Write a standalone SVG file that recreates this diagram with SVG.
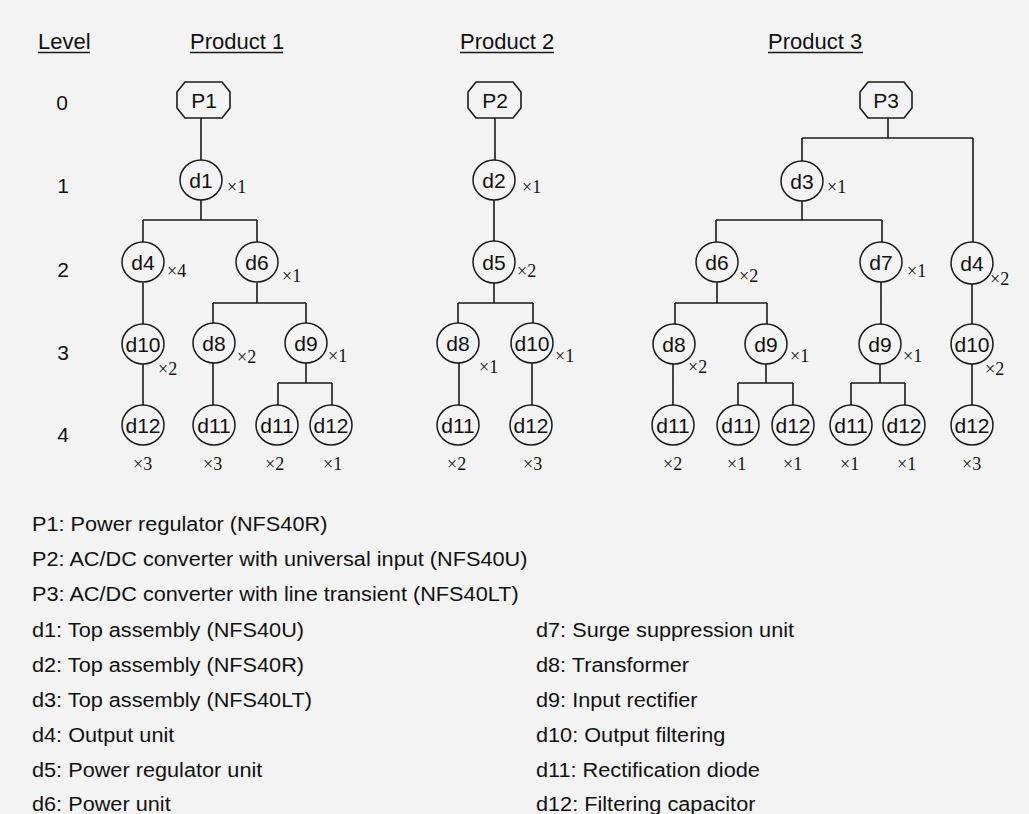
<svg xmlns="http://www.w3.org/2000/svg" width="1029" height="814" viewBox="0 0 1029 814">
<defs>
<style>
.bg{fill:#f3f3f3}
.ln{stroke:#1a1a1a;stroke-width:1.6;fill:none}
.c{fill:none;stroke:#1a1a1a;stroke-width:1.5}
.oct{fill:none;stroke:#1a1a1a;stroke-width:1.6;stroke-linejoin:round}
.lbl{font-family:"Liberation Sans",Arial,sans-serif;font-size:21px;fill:#111;text-anchor:middle}
.mul{font-family:"Liberation Serif","Times New Roman",serif;font-size:18px;fill:#111}
.hdr{font-family:"Liberation Sans",Arial,sans-serif;font-size:22px;fill:#111}
.lvl{font-family:"Liberation Sans",Arial,sans-serif;font-size:21px;fill:#111;text-anchor:middle}
.leg{font-family:"Liberation Sans",Arial,sans-serif;font-size:20px;fill:#111}
</style>
</defs>
<rect class="bg" x="0" y="0" width="1029" height="814"/>

<g id="headers">
<text class="hdr" x="38" y="49">Level</text>
<line class="ln" x1="38" y1="52.5" x2="90" y2="52.5"/>
<text class="hdr" x="190" y="49">Product 1</text>
<line class="ln" x1="190" y1="52.5" x2="283" y2="52.5"/>
<text class="hdr" x="460" y="49">Product 2</text>
<line class="ln" x1="460" y1="52.5" x2="554" y2="52.5"/>
<text class="hdr" x="768" y="49">Product 3</text>
<line class="ln" x1="768" y1="52.5" x2="863" y2="52.5"/>
</g>

<g id="levels">
<text class="lvl" x="62" y="110">0</text>
<text class="lvl" x="63" y="193">1</text>
<text class="lvl" x="63" y="277">2</text>
<text class="lvl" x="63" y="360">3</text>
<text class="lvl" x="63" y="442">4</text>
</g>

<g id="connectors">
<!-- Product 1 -->
<path class="ln" d="M201 118V160M201 200V220M143 220H257M143 220V242M257 220V242"/>
<path class="ln" d="M143 283V324M257 283V303M213 303H306M213 303V323M306 303V323"/>
<path class="ln" d="M143 364V405M213 363V405M306 363V383M278 383H332M278 383V405M332 383V405"/>
<!-- Product 2 -->
<path class="ln" d="M495 118V160M494 200V241M494 283V303M458 303H533M458 303V323M533 303V323"/>
<path class="ln" d="M459 363V405M532 363V405"/>
<!-- Product 3 -->
<path class="ln" d="M888 118V138M802 138H973M802 138V161M973 138V242"/>
<path class="ln" d="M802 201V220M716 220H882M716 220V242M882 220V242"/>
<path class="ln" d="M717 282V303M675 303H767M675 303V324M767 303V324M881 282V324M972 284V324"/>
<path class="ln" d="M673 364V405M766 364V383M738 383H793M738 383V405M793 383V405M880 364V383M851 383H905M851 383V405M905 383V405M972 364V405"/>
</g>

<!-- Product 1 nodes -->
<g id="p1-P1"><path class="oct" d="M185 82H222L230 92V108L222 118H185L177 108V92Z"/><text class="lbl" x="204" y="108">P1</text></g>
<g id="p1-d1"><ellipse class="c" cx="201" cy="180" rx="21" ry="20"/><text class="lbl" x="201" y="188">d1</text><text class="mul" x="227" y="193">×1</text></g>
<g id="p1-d4"><ellipse class="c" cx="143" cy="262" rx="21" ry="20"/><text class="lbl" x="143" y="270">d4</text><text class="mul" x="167" y="277">×4</text></g>
<g id="p1-d6"><ellipse class="c" cx="257" cy="262" rx="21" ry="20"/><text class="lbl" x="257" y="270">d6</text><text class="mul" x="282" y="282">×1</text></g>
<g id="p1-d10"><ellipse class="c" cx="143" cy="344" rx="21" ry="20"/><text class="lbl" x="143" y="352">d10</text><text class="mul" x="158" y="375">×2</text></g>
<g id="p1-d8"><ellipse class="c" cx="214" cy="343" rx="21" ry="20"/><text class="lbl" x="214" y="351">d8</text><text class="mul" x="237" y="363">×2</text></g>
<g id="p1-d9"><ellipse class="c" cx="306" cy="343" rx="21" ry="20"/><text class="lbl" x="306" y="351">d9</text><text class="mul" x="328" y="362">×1</text></g>
<g id="p1-d12a"><ellipse class="c" cx="143" cy="425" rx="21" ry="20"/><text class="lbl" x="143" y="433">d12</text><text class="mul" x="133" y="470">×3</text></g>
<g id="p1-d11a"><ellipse class="c" cx="214" cy="425" rx="21" ry="20"/><text class="lbl" x="214" y="433">d11</text><text class="mul" x="203" y="470">×3</text></g>
<g id="p1-d11b"><ellipse class="c" cx="277" cy="425" rx="21" ry="20"/><text class="lbl" x="277" y="433">d11</text><text class="mul" x="265" y="470">×2</text></g>
<g id="p1-d12b"><ellipse class="c" cx="331" cy="425" rx="21" ry="20"/><text class="lbl" x="331" y="433">d12</text><text class="mul" x="323" y="470">×1</text></g>

<!-- Product 2 nodes -->
<g id="p2-P2"><path class="oct" d="M476 82H513L521 92V108L513 118H476L468 108V92Z"/><text class="lbl" x="495" y="108">P2</text></g>
<g id="p2-d2"><ellipse class="c" cx="494" cy="180" rx="21" ry="20"/><text class="lbl" x="494" y="188">d2</text><text class="mul" x="522" y="193">×1</text></g>
<g id="p2-d5"><ellipse class="c" cx="494" cy="262" rx="21" ry="21"/><text class="lbl" x="494" y="270">d5</text><text class="mul" x="517" y="277">×2</text></g>
<g id="p2-d8"><ellipse class="c" cx="458" cy="343" rx="21" ry="20"/><text class="lbl" x="458" y="351">d8</text><text class="mul" x="479" y="373">×1</text></g>
<g id="p2-d10"><ellipse class="c" cx="532" cy="343" rx="21" ry="20"/><text class="lbl" x="532" y="351">d10</text><text class="mul" x="555" y="362">×1</text></g>
<g id="p2-d11"><ellipse class="c" cx="458" cy="425" rx="21" ry="20"/><text class="lbl" x="458" y="433">d11</text><text class="mul" x="447" y="470">×2</text></g>
<g id="p2-d12"><ellipse class="c" cx="531" cy="425" rx="21" ry="20"/><text class="lbl" x="531" y="433">d12</text><text class="mul" x="523" y="470">×3</text></g>

<!-- Product 3 nodes -->
<g id="p3-P3"><path class="oct" d="M868 82H904L912 92V108L904 118H868L860 108V92Z"/><text class="lbl" x="886" y="108">P3</text></g>
<g id="p3-d3"><ellipse class="c" cx="802" cy="181" rx="21" ry="20"/><text class="lbl" x="802" y="189">d3</text><text class="mul" x="827" y="193">×1</text></g>
<g id="p3-d6"><ellipse class="c" cx="717" cy="262" rx="21" ry="20"/><text class="lbl" x="717" y="270">d6</text><text class="mul" x="739" y="282">×2</text></g>
<g id="p3-d7"><ellipse class="c" cx="881" cy="262" rx="21" ry="20"/><text class="lbl" x="881" y="270">d7</text><text class="mul" x="907" y="277">×1</text></g>
<g id="p3-d4"><ellipse class="c" cx="972" cy="263" rx="21" ry="21"/><text class="lbl" x="972" y="271">d4</text><text class="mul" x="990" y="285">×2</text></g>
<g id="p3-d8"><ellipse class="c" cx="674" cy="344" rx="21" ry="20"/><text class="lbl" x="674" y="352">d8</text><text class="mul" x="688" y="373">×2</text></g>
<g id="p3-d9a"><ellipse class="c" cx="766" cy="344" rx="21" ry="20"/><text class="lbl" x="766" y="352">d9</text><text class="mul" x="790" y="362">×1</text></g>
<g id="p3-d9b"><ellipse class="c" cx="880" cy="344" rx="21" ry="20"/><text class="lbl" x="880" y="352">d9</text><text class="mul" x="903" y="362">×1</text></g>
<g id="p3-d10"><ellipse class="c" cx="972" cy="344" rx="21" ry="20"/><text class="lbl" x="972" y="352">d10</text><text class="mul" x="985" y="375">×2</text></g>
<g id="p3-d11a"><ellipse class="c" cx="673" cy="425" rx="21" ry="20"/><text class="lbl" x="673" y="433">d11</text><text class="mul" x="663" y="470">×2</text></g>
<g id="p3-d11b"><ellipse class="c" cx="738" cy="425" rx="21" ry="20"/><text class="lbl" x="738" y="433">d11</text><text class="mul" x="727" y="470">×1</text></g>
<g id="p3-d12a"><ellipse class="c" cx="793" cy="425" rx="21" ry="20"/><text class="lbl" x="793" y="433">d12</text><text class="mul" x="783" y="470">×1</text></g>
<g id="p3-d11c"><ellipse class="c" cx="851" cy="425" rx="21" ry="20"/><text class="lbl" x="851" y="433">d11</text><text class="mul" x="840" y="470">×1</text></g>
<g id="p3-d12b"><ellipse class="c" cx="904" cy="425" rx="21" ry="20"/><text class="lbl" x="904" y="433">d12</text><text class="mul" x="897" y="470">×1</text></g>
<g id="p3-d12c"><ellipse class="c" cx="972" cy="425" rx="21" ry="20"/><text class="lbl" x="972" y="433">d12</text><text class="mul" x="962" y="470">×3</text></g>

<g id="legend" transform="scale(1.085,1)">
<text class="leg" x="29.5" y="531">P1: Power regulator (NFS40R)</text>
<text class="leg" x="29.5" y="566">P2: AC/DC converter with universal input (NFS40U)</text>
<text class="leg" x="29.5" y="601">P3: AC/DC converter with line transient (NFS40LT)</text>
<text class="leg" x="29.5" y="637">d1: Top assembly (NFS40U)</text>
<text class="leg" x="29.5" y="672">d2: Top assembly (NFS40R)</text>
<text class="leg" x="29.5" y="707">d3: Top assembly (NFS40LT)</text>
<text class="leg" x="29.5" y="742">d4: Output unit</text>
<text class="leg" x="29.5" y="777">d5: Power regulator unit</text>
<text class="leg" x="29.5" y="811">d6: Power unit</text>
<text class="leg" x="494" y="637">d7: Surge suppression unit</text>
<text class="leg" x="494" y="672">d8: Transformer</text>
<text class="leg" x="494" y="707">d9: Input rectifier</text>
<text class="leg" x="494" y="742">d10: Output filtering</text>
<text class="leg" x="494" y="777">d11: Rectification diode</text>
<text class="leg" x="494" y="811">d12: Filtering capacitor</text>
</g>
</svg>
